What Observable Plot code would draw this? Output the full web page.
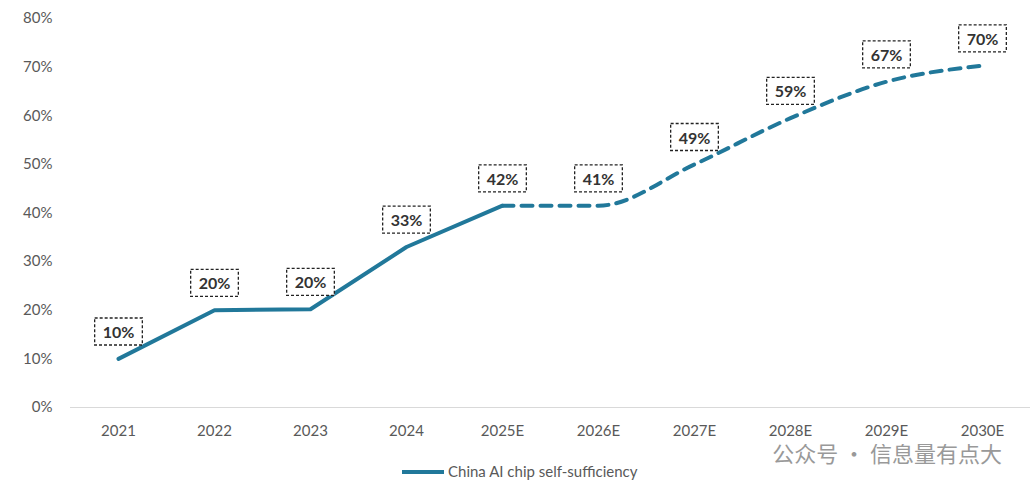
<!DOCTYPE html>
<html><head><meta charset="utf-8">
<script src="https://cdn.jsdelivr.net/npm/d3@7"></script>
<script src="https://cdn.jsdelivr.net/npm/@observablehq/plot@0.6"></script>
<style>
body{margin:0;background:#fff;font-family:Lato,"Noto Sans",sans-serif;}
#legend{position:relative;height:50px;}
</style></head><body>
<div id="chart"></div>
<div id="legend"></div>
<script>
const years = ["2021","2022","2023","2024","2025E","2026E","2027E","2028E","2029E","2030E"];
const values = [10, 20, 20.2, 33, 41.5, 41.5, 50, 59.5, 67, 70.3];
const labels = ["10%","20%","20%","33%","42%","41%","49%","59%","67%","70%"];
const yTicks = [0,10,20,30,40,50,60,70,80];
const color = "#21789a";
const data = years.map((y,i)=>({year:y, v:values[i], label:labels[i], i}));
const actual = data.filter(d=>d.i<=4), est = data.filter(d=>d.i>=4);
const chart = Plot.plot({
  width:1036, height:444, marginLeft:70, marginRight:6, marginTop:18, marginBottom:37,
  style:{fontFamily:"Lato,'Noto Sans',sans-serif", fontSize:"15px", color:"#595959"},
  x:{type:"point", domain:years, padding:0.5, label:null, tickSize:0, tickPadding:18},
  y:{domain:[0,80], ticks:yTicks, tickFormat:d=>d+"%", label:null, tickSize:0, tickPadding:18},
  marks:[
    Plot.ruleY([0],{stroke:"#d9d9d9", strokeWidth:1}),
    Plot.line(actual,{x:"year", y:"v", stroke:color, strokeWidth:4, curve:"linear", strokeLinejoin:"round"}),
    Plot.line(est,{x:"year", y:"v", stroke:color, strokeWidth:4, strokeDasharray:"11,8", curve:"monotone-x"}),
    Plot.text(data,{x:"year", y:"v", text:"label", dy:-26, fontWeight:"bold", fontSize:16, fill:"#333", className:"lbl"})
  ]
});
document.getElementById("chart").appendChild(chart);
d3.select(chart).selectAll("g.lbl text").each(function(){
  const b=this.getBBox();
  d3.select(this.parentNode).insert("rect","text").attr("x",b.x-8).attr("y",b.y-4).attr("width",b.width+16).attr("height",b.height+8)
   .attr("fill","white").attr("stroke","#222").attr("stroke-width",1.3).attr("stroke-dasharray","3,2")
   .attr("transform",this.getAttribute("transform"));
});
d3.select(chart).selectAll("g.lbl text").each(function(){this.parentNode.appendChild(this);});
const lg=d3.select("#legend").append("svg").attr("width",1036).attr("height",50);
lg.append("line").attr("x1",402).attr("x2",444).attr("y1",28).attr("y2",28).attr("stroke",color).attr("stroke-width",4);
lg.append("text").attr("x",448).attr("y",33).attr("font-size",15).attr("fill","#595959").text("China AI chip self-sufficiency");
lg.append("text").attr("x",1002).attr("y",18).attr("text-anchor","end").attr("font-size",22).attr("fill","#999").attr("font-family","Noto Sans CJK SC").text("公众号 · 信息量有点大");
</script></body></html>
